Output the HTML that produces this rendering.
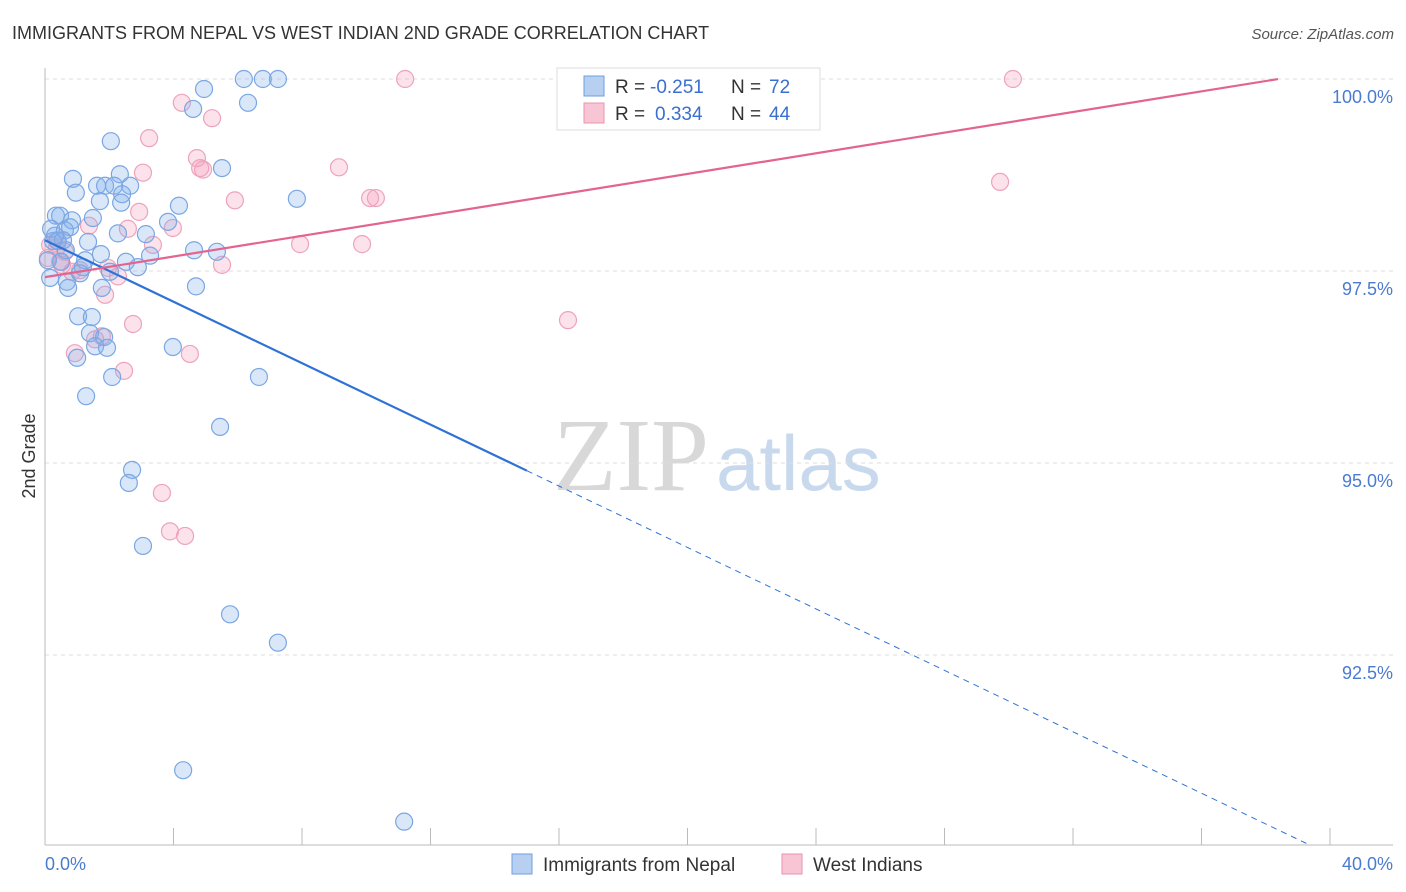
<!DOCTYPE html>
<html><head><meta charset="utf-8"><style>
body{margin:0;background:#fff;font-family:"Liberation Sans",sans-serif}
svg{display:block}
</style></head><body>
<svg id="c" width="1406" height="892" xmlns="http://www.w3.org/2000/svg">
<text x="12" y="39" font-size="18" fill="#333">IMMIGRANTS FROM NEPAL VS WEST INDIAN 2ND GRADE CORRELATION CHART</text>
<text x="1394" y="39" font-size="15" fill="#555" font-style="italic" text-anchor="end">Source: ZipAtlas.com</text>
<text x="553" y="490" font-size="104" font-family="Liberation Serif,serif" fill="#d8d8d8">ZIP</text>
<text x="716" y="490" font-size="78" fill="#c8d9ee">atlas</text>
<g id="grid"></g>
<g id="axes"></g>
<g id="pts"></g>
<g id="lines"></g>
<text x="35" y="456" font-size="18" fill="#333" transform="rotate(-90 35 456)" text-anchor="middle">2nd Grade</text>
<g>
<rect x="557" y="68" width="263" height="62" fill="#fff" stroke="#ddd"/>
<rect x="584" y="76" width="20" height="20" fill="#b7d0f2" stroke="#6d9ee0"/>
<rect x="584" y="103" width="20" height="20" fill="#f8c5d5" stroke="#ea93b0"/>
<text x="615" y="93" font-size="19" fill="#333">R =</text>
<text x="650" y="93" font-size="19" fill="#3a6fd0">-0.251</text>
<text x="731" y="93" font-size="19" fill="#333">N =</text>
<text x="769" y="93" font-size="19" fill="#3a6fd0">72</text>
<text x="615" y="120" font-size="19" fill="#333">R =</text>
<text x="655" y="120" font-size="19" fill="#3a6fd0">0.334</text>
<text x="731" y="120" font-size="19" fill="#333">N =</text>
<text x="769" y="120" font-size="19" fill="#3a6fd0">44</text>
</g>
<g>
<rect x="512" y="854" width="20" height="20" fill="#b7d0f2" stroke="#6d9ee0"/>
<text x="543" y="871" font-size="19" fill="#333">Immigrants from Nepal</text>
<rect x="782" y="854" width="20" height="20" fill="#f8c5d5" stroke="#ea93b0"/>
<text x="813" y="871" font-size="19" fill="#333">West Indians</text>
</g>
</svg>
<script>
const nepalX=[6.19,6.78,7.25,4.95,6.32,4.61,2.05,5.51,0.87,2.33,1.62,1.87,2.15,2.65,0.96,2.40,1.71,2.37,7.84,4.17,0.34,0.47,0.84,1.49,3.83,0.19,0.62,0.78,2.27,3.14,0.25,1.34,0.40,4.64,5.35,0.65,1.74,3.27,1.25,0.50,2.52,1.18,2.89,2.02,0.16,0.68,0.72,1.77,4.70,1.03,1.46,1.40,1.84,1.56,1.93,3.98,1.00,2.09,6.66,1.28,5.45,2.71,2.61,3.05,5.76,7.25,4.30,11.18,0.09,1.09,0.56,0.31];
const nepalY=[100,100,100,99.87,99.69,99.61,99.19,98.84,98.70,98.76,98.61,98.61,98.61,98.61,98.52,98.50,98.41,98.39,98.44,98.35,98.22,98.22,98.16,98.19,98.14,98.05,98.03,98.07,97.99,97.98,97.89,97.88,97.89,97.77,97.75,97.77,97.72,97.70,97.64,97.62,97.62,97.55,97.55,97.49,97.41,97.36,97.28,97.28,97.30,96.91,96.90,96.69,96.64,96.52,96.50,96.51,96.37,96.12,96.12,95.87,95.47,94.91,94.74,93.92,93.03,92.66,91.00,90.33,97.64,97.47,97.90,97.96];
const wiX=[11.21,30.13,4.26,5.20,3.24,4.73,3.05,4.83,4.92,9.15,5.91,10.12,10.30,29.73,2.93,1.37,2.58,3.98,3.36,7.94,9.87,0.16,0.37,0.62,0.09,0.47,5.51,0.84,1.09,2.27,1.96,1.87,16.28,2.74,1.77,0.93,4.51,2.46,3.64,3.89,4.36,0.37,0.53,1.56];
const wiY=[100,100,99.69,99.49,99.23,98.97,98.78,98.84,98.82,98.85,98.42,98.45,98.45,98.66,98.27,98.09,98.05,98.06,97.84,97.85,97.85,97.84,97.81,97.75,97.67,97.62,97.58,97.49,97.51,97.43,97.54,97.19,96.86,96.81,96.65,96.43,96.42,96.20,94.61,94.11,94.05,97.90,97.58,96.61];
const yTicks=[100,97.5,95,92.5];
const yTickLabels=["100.0%","97.5%","95.0%","92.5%"];
const nepalTrend=[97.90,-0.2,15,39.38];
const wiTrend=[97.42,0.0672,38.38];
const NS="http://www.w3.org/2000/svg";
const sx=v=>45+v/40*1285, sy=v=>79+(100-v)/2.5*192;
function mk(p,t,a){const e=document.createElementNS(NS,t);for(const k in a)e.setAttribute(k,a[k]);p.appendChild(e);return e;}
const g=document.getElementById('grid'),ax=document.getElementById('axes'),pg=document.getElementById('pts'),lg=document.getElementById('lines');
yTicks.forEach((t,i)=>{
 const l=mk(g,'line',{x1:45,x2:1393,y1:sy(t),y2:sy(t),stroke:'#ddd','stroke-dasharray':'4,4'});
 
 
 const tx=mk(g,'text',{x:1393,y:sy(t)+24,'font-size':18,fill:'#4a7bd0','text-anchor':'end'});tx.textContent=yTickLabels[i];
 
 
});
mk(ax,'line',{x1:45,x2:45,y1:68,y2:845,stroke:'#bbb'});
mk(ax,'line',{x1:45,x2:1393,y1:845,y2:845,stroke:'#bbb'});
for(let i=1;i<=10;i++){const t=mk(ax,'line',{x1:sx(i*4),x2:sx(i*4),y1:828,y2:845,stroke:'#bbb'});
 
 }
const x0=mk(ax,'text',{x:45,y:870,'font-size':18,fill:'#4a7bd0'});x0.textContent='0.0%';


const x1=mk(ax,'text',{x:1393,y:870,'font-size':18,fill:'#4a7bd0','text-anchor':'end'});x1.textContent='40.0%';


wiX.forEach((x,i)=>{const c=mk(pg,'circle',{cx:sx(x),cy:sy(wiY[i]),r:8.5,fill:'rgba(244,160,188,0.3)',stroke:'#eea3bb','stroke-width':1.2});
 
 });
nepalX.forEach((x,i)=>{const c=mk(pg,'circle',{cx:sx(x),cy:sy(nepalY[i]),r:8.5,fill:'rgba(130,175,235,0.3)',stroke:'#7aa7e3','stroke-width':1.2});
 
 });
const [b0,bs,bx1,bx2]=nepalTrend;
const t1=mk(lg,'line',{x1:sx(0),y1:sy(b0),x2:sx(bx1),y2:sy(b0+bs*bx1),stroke:'#2f72d6','stroke-width':2.2});


const t2=mk(lg,'line',{x1:sx(bx1),y1:sy(b0+bs*bx1),x2:sx(bx2),y2:sy(b0+bs*bx2),stroke:'#2f72d6','stroke-width':1,'stroke-dasharray':'6,5'});


const [p0,ps,px]=wiTrend;
const t3=mk(lg,'line',{x1:sx(0),y1:sy(p0),x2:sx(px),y2:sy(p0+ps*px),stroke:'#e2648f','stroke-width':2.2});


</script>
</body></html>
